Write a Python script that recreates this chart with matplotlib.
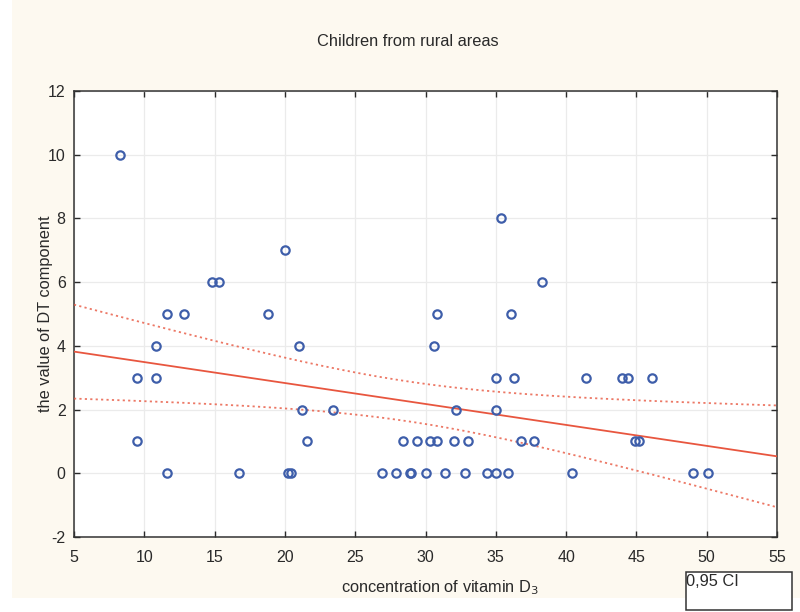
import numpy as np
import matplotlib.pyplot as plt
from matplotlib.patches import Rectangle

plt.rcParams['font.family'] = ['Liberation Sans', 'DejaVu Sans']
plt.rcParams['axes.unicode_minus'] = False

# vitamin D3 concentration and DT component values
vit_d3 = [8.3, 9.5, 9.5, 10.8, 10.8, 11.6, 11.6, 12.8, 14.8, 15.3,
          16.7, 18.8, 20.0, 20.2, 20.4, 21.0, 21.2, 21.6, 23.4, 26.9,
          27.9, 28.4, 28.9, 29.0, 29.4, 30.0, 30.3, 30.6, 30.8, 30.8,
          31.4, 32.0, 32.2, 32.8, 33.0, 34.4, 35.0, 35.0, 35.0, 35.4,
          35.9, 36.1, 36.3, 36.8, 37.7, 38.3, 40.4, 41.4, 44.0, 44.4,
          44.9, 45.2, 46.1, 49.0, 50.1]
dt_value = [10, 3, 1, 4, 3, 5, 0, 5, 6, 6,
            0, 5, 7, 0, 0, 4, 2, 1, 2, 0,
            0, 1, 0, 0, 1, 0, 1, 4, 1, 5,
            0, 1, 2, 0, 1, 0, 3, 2, 0, 8,
            0, 5, 3, 1, 1, 6, 0, 3, 3, 3,
            1, 1, 3, 0, 0]

x_ticks = [5, 10, 15, 20, 25, 30, 35, 40, 45, 50, 55]
y_ticks = [-2, 0, 2, 4, 6, 8, 10, 12]

# linear fit with 0.95 confidence band
x = np.array(vit_d3)
y = np.array(dt_value)
n = len(x)
slope, intercept = np.polyfit(x, y, 1)
resid = y - (slope * x + intercept)
s = np.sqrt(np.sum(resid ** 2) / (n - 2))
t_crit = 2.0
xx = np.linspace(5, 55, 200)
yy = slope * xx + intercept
se = s * np.sqrt(1 / n + (xx - x.mean()) ** 2 / np.sum((x - x.mean()) ** 2))

fig = plt.figure(figsize=(8, 6.12), dpi=100)
fig.patch.set_facecolor('white')
fig.patches.append(Rectangle((12 / 800, 14 / 612), 1, 1, transform=fig.transFigure,
                             facecolor='#fdf9f0', edgecolor='none', zorder=-10))

ax = fig.add_axes([74 / 800, 1 - 537 / 612, 703 / 800, 446 / 612])
ax.set_facecolor('white')

red = '#e8563f'
ax.plot(xx, yy, color=red, lw=1.3, zorder=3)
ax.plot(xx, yy + t_crit * se, color=red, lw=1.3, ls=(0, (1.2, 1.8)), alpha=0.8, zorder=3)
ax.plot(xx, yy - t_crit * se, color=red, lw=1.3, ls=(0, (1.2, 1.8)), alpha=0.8, zorder=3)
ax.plot(x, y, 'o', ms=6, mfc='none', mec='#3e5eaa', mew=1.6, zorder=4)

ax.set_xlim(5, 55)
ax.set_ylim(-2, 12)
ax.set_xticks(x_ticks)
ax.set_yticks(y_ticks)
ax.grid(True, color='#ebebeb', lw=0.9)
ax.set_axisbelow(True)
ax.tick_params(direction='in', top=True, right=True, length=4, width=1,
               labelsize=11.5, colors='#2a2a2a', pad=9)
ax.tick_params(axis='y', pad=6)
for sp in ax.spines.values():
    sp.set_color('#333333')
    sp.set_linewidth(1.1)

fig.text(408 / 800, 1 - 42 / 612, 'Children from rural areas', ha='center', va='center',
         fontsize=11.8, color='#2a2a2a')
fig.text(440 / 800, 1 - 588 / 612, 'concentration of vitamin D$_3$', ha='center', va='center',
         fontsize=11.8, color='#2a2a2a')
fig.text(46 / 800, 1 - 314 / 612, 'the value of DT component', ha='center', va='center',
         rotation=90, fontsize=11.8, color='#2a2a2a')

fig.patches.append(Rectangle((686 / 800, 1 - 610 / 612), 106 / 800, 38 / 612,
                             transform=fig.transFigure, facecolor='white',
                             edgecolor='#333333', lw=1.1))
fig.text(686 / 800, 1 - 582 / 612, '0,95 CI', ha='left', va='center',
         fontsize=11.8, color='#2a2a2a')

fig.savefig('out.png', dpi=100)
